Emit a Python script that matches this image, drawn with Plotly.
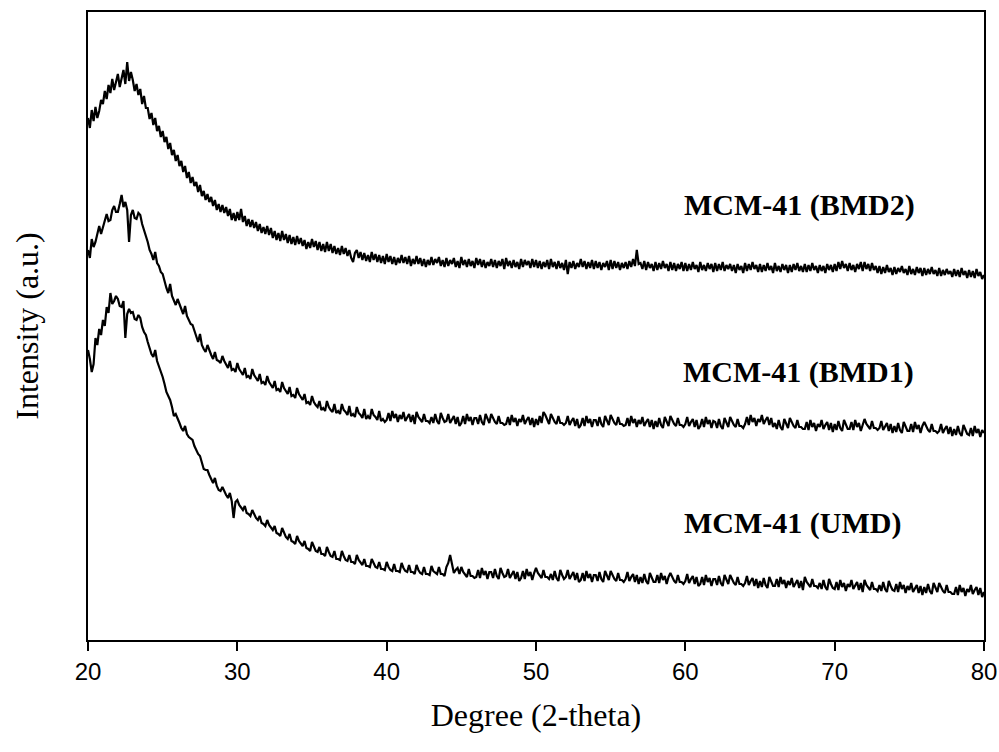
import numpy as np
import plotly.graph_objects as go

# 2-theta scan grid (degrees), 0.125 deg step
two_theta = np.linspace(20, 80, 481)

# Intensities (a.u.); curves are offset as in the original
bmd2 = [
    522, 512, 530, 519, 533, 522, 529, 540,
    536, 549, 541, 555, 547, 561, 550, 558,
    566, 553, 561, 570, 556, 578, 559, 568,
    560, 549, 556, 545, 551, 536, 544, 532,
    532, 521, 527, 515, 522, 509, 514, 503,
    509, 498, 503, 491, 497, 485, 490, 479,
    485, 474, 479, 468, 474, 462, 468, 457,
    463, 454, 458, 448, 455, 444, 449, 440,
    446, 438, 443, 434, 440, 430, 436, 428,
    435, 427, 433, 424, 431, 420, 427, 419,
    428, 420, 431, 418, 424, 414, 421, 413,
    420, 412, 418, 409, 416, 407, 413, 406,
    414, 405, 412, 402, 409, 400, 407, 399,
    409, 400, 406, 397, 405, 396, 403, 395,
    404, 396, 402, 394, 400, 391, 398, 392,
    401, 393, 399, 390, 398, 389, 396, 388,
    398, 389, 396, 387, 394, 386, 392, 385,
    394, 386, 392, 384, 390, 382, 378, 387,
    390, 382, 388, 380, 387, 379, 385, 378,
    388, 380, 386, 378, 385, 377, 384, 376,
    386, 378, 384, 376, 383, 375, 382, 377,
    385, 377, 383, 376, 384, 374, 381, 376,
    384, 376, 382, 374, 381, 373, 380, 375,
    383, 375, 381, 377, 383, 374, 380, 373,
    382, 374, 380, 376, 382, 373, 379, 372,
    383, 375, 380, 373, 381, 374, 379, 372,
    382, 375, 381, 373, 380, 372, 378, 374,
    381, 373, 380, 372, 379, 374, 381, 371,
    382, 374, 379, 372, 380, 373, 378, 371,
    381, 373, 380, 375, 379, 372, 381, 373,
    380, 372, 379, 371, 378, 373, 380, 371,
    381, 373, 378, 371, 379, 372, 377, 370,
    380, 366, 378, 372, 379, 371, 377, 373,
    381, 373, 379, 371, 378, 372, 380, 371,
    379, 372, 378, 370, 377, 373, 379, 370,
    380, 371, 379, 372, 378, 370, 377, 372,
    378, 371, 379, 373, 381, 374, 390, 376,
    377, 371, 379, 370, 378, 372, 376, 369,
    378, 370, 377, 371, 379, 372, 376, 369,
    378, 370, 377, 369, 376, 371, 378, 369,
    377, 369, 376, 370, 378, 371, 375, 368,
    378, 370, 375, 369, 377, 371, 376, 368,
    377, 369, 376, 370, 378, 369, 375, 371,
    376, 369, 375, 367, 376, 370, 374, 367,
    377, 369, 376, 370, 378, 371, 375, 368,
    376, 368, 375, 369, 377, 370, 374, 367,
    377, 369, 374, 368, 376, 370, 375, 367,
    375, 368, 376, 370, 377, 369, 374, 368,
    376, 368, 375, 369, 377, 370, 374, 367,
    375, 369, 374, 367, 376, 370, 375, 368,
    376, 369, 378, 371, 379, 372, 376, 369,
    377, 370, 375, 368, 376, 371, 378, 369,
    378, 371, 376, 369, 377, 370, 374, 367,
    374, 366, 373, 367, 375, 368, 372, 365,
    373, 366, 372, 368, 374, 367, 371, 365,
    374, 366, 371, 365, 373, 367, 372, 364,
    372, 365, 371, 366, 373, 366, 370, 364,
    372, 364, 370, 365, 371, 366, 369, 363,
    371, 364, 370, 363, 372, 365, 369, 362,
    370, 363, 369, 362, 371, 364, 368, 361,
    365,
]

bmd1 = [
    390, 382, 401, 393, 398, 407, 414, 406,
    413, 421, 426, 419, 420, 430, 434, 428,
    428, 436, 445, 433, 438, 430, 398, 425,
    430, 422, 421, 427, 425, 416, 409, 404,
    398, 390, 386, 380, 388, 377, 374, 368,
    366, 358, 352, 347, 356, 344, 340, 335,
    341, 335, 331, 326, 334, 324, 320, 316,
    315, 309, 302, 298, 306, 295, 291, 288,
    295, 289, 285, 281, 288, 280, 279, 277,
    284, 279, 275, 272, 279, 270, 271, 268,
    277, 271, 268, 265, 272, 263, 264, 261,
    271, 265, 262, 259, 266, 257, 258, 255,
    264, 258, 255, 252, 259, 250, 251, 248,
    258, 252, 249, 246, 253, 244, 245, 242,
    252, 246, 243, 240, 246, 237, 238, 235,
    244, 238, 235, 233, 239, 230, 232, 229,
    239, 233, 230, 228, 236, 227, 229, 226,
    236, 230, 228, 225, 234, 224, 226, 223,
    233, 227, 225, 222, 231, 221, 224, 221,
    231, 225, 223, 220, 229, 219, 221, 218,
    220, 227, 219, 229, 222, 226, 218, 225,
    221, 228, 219, 223, 226, 218, 225, 216,
    228, 223, 220, 218, 226, 219, 219, 217,
    223, 217, 226, 219, 216, 227, 222, 218,
    219, 226, 217, 221, 224, 216, 223, 214,
    217, 224, 216, 226, 219, 223, 215, 222,
    222, 216, 225, 218, 215, 226, 221, 217,
    226, 221, 218, 216, 224, 217, 217, 215,
    216, 223, 215, 225, 218, 222, 214, 221,
    218, 225, 216, 220, 223, 215, 222, 213,
    221, 215, 224, 217, 228, 225, 220, 216,
    226, 221, 218, 216, 224, 217, 217, 215,
    217, 224, 215, 219, 222, 214, 221, 212,
    215, 222, 214, 224, 217, 221, 213, 220,
    220, 214, 223, 216, 213, 224, 219, 215,
    225, 220, 217, 215, 223, 216, 216, 214,
    215, 222, 214, 224, 217, 221, 213, 220,
    216, 223, 214, 218, 221, 213, 220, 211,
    219, 213, 222, 215, 212, 223, 218, 214,
    224, 219, 216, 214, 222, 215, 215, 213,
    216, 223, 214, 218, 221, 213, 220, 211,
    214, 221, 213, 223, 216, 220, 212, 219,
    218, 212, 221, 214, 211, 222, 217, 213,
    223, 218, 215, 213, 221, 214, 214, 212,
    216, 223, 215, 225, 218, 222, 214, 221,
    218, 225, 216, 220, 223, 215, 222, 213,
    217, 211, 220, 213, 210, 221, 216, 212,
    222, 217, 214, 212, 220, 213, 213, 211,
    211, 218, 210, 220, 213, 217, 209, 216,
    213, 220, 211, 215, 218, 210, 217, 208,
    216, 210, 219, 212, 209, 220, 215, 211,
    211, 218, 210, 220, 213, 217, 209, 216,
    221, 216, 213, 211, 219, 212, 212, 210,
    212, 219, 210, 214, 217, 209, 216, 207,
    214, 208, 217, 210, 207, 218, 213, 209,
    209, 216, 208, 218, 211, 215, 207, 214,
    218, 213, 210, 208, 216, 209, 209, 207,
    209, 216, 207, 211, 214, 206, 213, 204,
    211, 205, 214, 207, 204, 215, 210, 206,
    205, 212, 204, 214, 207, 211, 203, 210,
    207,
]

umd = [
    290, 281, 268, 276, 302, 295, 311, 305,
    320, 314, 333, 327, 347, 336, 339, 344,
    341, 334, 333, 339, 302, 326, 331, 327,
    328, 321, 320, 325, 322, 313, 308, 305,
    298, 292, 286, 283, 290, 279, 274, 268,
    263, 256, 248, 244, 240, 233, 224, 226,
    222, 217, 212, 209, 214, 206, 203, 201,
    200, 194, 189, 186, 184, 177, 171, 170,
    170, 165, 160, 157, 162, 154, 150, 149,
    153, 148, 145, 142, 147, 139, 122, 138,
    140, 135, 132, 130, 134, 127, 126, 124,
    130, 125, 122, 120, 124, 117, 116, 114,
    120, 115, 112, 110, 114, 107, 106, 104,
    112, 107, 103, 101, 106, 99, 98, 96,
    104, 99, 96, 94, 99, 92, 91, 89,
    98, 93, 89, 88, 93, 86, 86, 84,
    93, 88, 84, 83, 89, 81, 81, 80,
    89, 84, 80, 79, 85, 78, 78, 76,
    85, 80, 77, 75, 81, 74, 74, 73,
    81, 76, 73, 72, 78, 71, 71, 70,
    78, 73, 70, 69, 76, 69, 69, 68,
    77, 72, 69, 68, 75, 68, 68, 66,
    75, 70, 67, 66, 73, 66, 66, 65,
    74, 69, 67, 66, 73, 66, 66, 64,
    73, 77, 85, 74, 67, 70, 72, 66,
    73, 68, 65, 63, 71, 64, 64, 62,
    63, 70, 62, 72, 65, 69, 61, 68,
    68, 62, 71, 64, 61, 72, 67, 63,
    64, 71, 62, 66, 69, 61, 68, 59,
    62, 69, 61, 71, 64, 68, 60, 67,
    72, 67, 64, 62, 70, 63, 63, 61,
    66, 60, 69, 62, 59, 70, 65, 61,
    63, 70, 61, 65, 68, 60, 67, 58,
    60, 67, 59, 69, 62, 66, 58, 65,
    65, 59, 68, 61, 58, 69, 64, 60,
    69, 64, 61, 59, 67, 60, 60, 58,
    61, 68, 59, 63, 66, 58, 65, 56,
    63, 57, 66, 59, 56, 67, 62, 58,
    58, 65, 57, 67, 60, 64, 56, 63,
    67, 62, 59, 57, 65, 58, 58, 56,
    59, 66, 57, 61, 64, 56, 63, 54,
    56, 63, 55, 65, 58, 62, 54, 61,
    61, 55, 64, 57, 54, 65, 60, 56,
    65, 60, 57, 55, 63, 56, 56, 54,
    57, 64, 55, 59, 62, 54, 61, 52,
    59, 53, 62, 55, 52, 63, 58, 54,
    54, 61, 53, 63, 56, 60, 52, 59,
    55, 62, 53, 57, 60, 52, 59, 50,
    63, 58, 55, 53, 61, 54, 54, 52,
    57, 51, 60, 53, 50, 61, 56, 52,
    51, 58, 50, 60, 53, 57, 49, 56,
    53, 60, 51, 55, 58, 50, 57, 48,
    60, 55, 52, 50, 58, 51, 51, 49,
    55, 49, 58, 51, 48, 59, 54, 50,
    49, 56, 48, 58, 51, 55, 47, 54,
    50, 57, 48, 52, 55, 47, 54, 45,
    53, 47, 56, 49, 46, 57, 52, 48,
    57, 52, 49, 47, 55, 48, 48, 46,
    46, 53, 45, 55, 48, 52, 44, 51,
    48, 55, 46, 50, 53, 45, 52, 43,
    48,
]

series_names = ["MCM-41 (BMD2)", "MCM-41 (BMD1)", "MCM-41 (UMD)"]
series_values = [bmd2, bmd1, umd]
label_x = [67.65, 67.55, 67.2]
label_y = [435, 268, 117]

x_ticks = [20, 30, 40, 50, 60, 70, 80]

fig = go.Figure()
for name, vals in zip(series_names, series_values):
    fig.add_trace(go.Scatter(
        x=two_theta, y=vals, mode="lines", name=name,
        line=dict(color="black", width=2.2), showlegend=False,
    ))

for name, lx, ly in zip(series_names, label_x, label_y):
    fig.add_annotation(
        x=lx, y=ly, xref="x", yref="y", text="<b>" + name + "</b>",
        showarrow=False, xanchor="center", yanchor="middle",
        font=dict(family="Liberation Serif, Times New Roman, serif", size=30, color="black"),
    )

fig.update_layout(
    width=999, height=752,
    margin=dict(l=88, r=15, t=12, b=112),
    paper_bgcolor="white", plot_bgcolor="white",
    font=dict(family="Liberation Serif, Times New Roman, serif", color="black"),
)
fig.update_xaxes(
    range=[20, 80], tickvals=x_ticks, ticktext=[str(t) for t in x_ticks],
    ticks="outside", ticklen=9, tickwidth=1.5, tickcolor="black",
    showline=True, linecolor="black", linewidth=1.6, mirror=True,
    showgrid=False, zeroline=False, automargin=False,
    tickfont=dict(family="Liberation Sans, Arial, sans-serif", size=24, color="black"),
    title=dict(text="Degree (2-theta)", standoff=20,
               font=dict(family="Liberation Serif, Times New Roman, serif", size=32, color="black")),
)
fig.update_yaxes(
    range=[0, 628], showticklabels=False, ticks="",
    showline=True, linecolor="black", linewidth=1.6, mirror=True,
    showgrid=False, zeroline=False, automargin=False,
    title=dict(text="Intensity (a.u.)", standoff=38,
               font=dict(family="Liberation Serif, Times New Roman, serif", size=32, color="black")),
)

fig.write_html(
    "out.html",
    config={"displayModeBar": False},
    post_script="document.body.style.margin='0px';document.body.style.overflow='hidden';",
)
